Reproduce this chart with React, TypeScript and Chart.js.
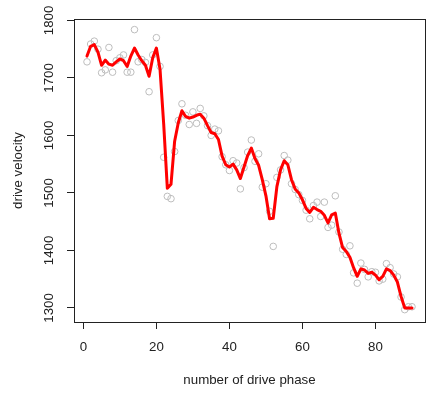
import React, { useEffect, useRef } from "react";
import { Chart, registerables } from "chart.js";

Chart.register(...registerables);

const phase = [
  1, 2, 3, 4, 5, 6, 7, 8, 9, 10, 11, 12, 13, 14, 15, 16, 17, 18, 19, 20,
  21, 22, 23, 24, 25, 26, 27, 28, 29, 30, 31, 32, 33, 34, 35, 36, 37, 38, 39, 40,
  41, 42, 43, 44, 45, 46, 47, 48, 49, 50, 51, 52, 53, 54, 55, 56, 57, 58, 59, 60,
  61, 62, 63, 64, 65, 66, 67, 68, 69, 70, 71, 72, 73, 74, 75, 76, 77, 78, 79, 80,
  81, 82, 83, 84, 85, 86, 87, 88, 89, 90,
];

const velocity = [
  1728, 1759, 1764, 1750, 1709, 1714, 1753, 1710, 1730, 1735,
  1740, 1710, 1710, 1784, 1728, 1732, 1727, 1676, 1740, 1770,
  1720, 1562, 1494, 1490, 1572, 1626, 1655, 1635, 1619, 1641,
  1621, 1647, 1634, 1617, 1600, 1611, 1608, 1563, 1549, 1539,
  1556, 1552, 1507, 1544, 1571, 1592, 1555, 1568, 1510, 1516,
  1468, 1407, 1527, 1540, 1565, 1557, 1516, 1506, 1497, 1487,
  1470, 1455, 1478, 1484, 1459, 1484, 1440, 1444, 1495, 1432,
  1402, 1393, 1408, 1361, 1343, 1378, 1367, 1354, 1363, 1362,
  1347, 1350, 1377, 1370, 1359, 1354, 1319, 1297, 1302, 1302,
];

const smoothed = [
  1738, 1755, 1758, 1745, 1722, 1731, 1724, 1722, 1728, 1733,
  1730, 1720, 1738, 1752, 1740, 1730, 1722, 1703, 1735, 1752,
  1715, 1620, 1508, 1515, 1590, 1622, 1643, 1633, 1630, 1632,
  1635, 1637, 1630, 1617, 1605, 1603, 1593, 1564, 1549, 1545,
  1550, 1540, 1525, 1545, 1565, 1578, 1560, 1548, 1523, 1495,
  1455, 1456, 1511, 1540, 1556, 1549, 1523, 1507, 1500, 1488,
  1473, 1466, 1475, 1471, 1468, 1461, 1448, 1462, 1465, 1430,
  1405, 1398, 1388, 1370, 1355, 1368, 1366, 1360, 1362, 1357,
  1349, 1355, 1368, 1365, 1357, 1345, 1320, 1300, 1300, 1300,
];

const xTicks = [0, 20, 40, 60, 80];
const yTicks = [1300, 1400, 1500, 1600, 1700, 1800];

const xTitle = "number of drive phase";
const yTitle = "drive velocity";

const FONT = "'Liberation Sans', Arial, sans-serif";
const INK = "#222";

const boxPlugin = {
  id: "rBox",
  afterDraw(chart: any) {
    const { ctx, chartArea } = chart;
    ctx.save();
    ctx.strokeStyle = INK;
    ctx.lineWidth = 1;
    ctx.strokeRect(
      Math.round(chartArea.left) + 0.5,
      Math.round(chartArea.top) + 0.5,
      Math.round(chartArea.right - chartArea.left),
      Math.round(chartArea.bottom - chartArea.top)
    );
    ctx.restore();
  },
};

export default function App() {
  const ref = useRef<HTMLCanvasElement | null>(null);

  useEffect(() => {
    document.body.style.overflow = "hidden";
    const canvas = ref.current;
    if (!canvas) return;
    const points = phase.map((p, i) => ({ x: p, y: velocity[i] }));
    const line = phase.map((p, i) => ({ x: p, y: smoothed[i] }));

    const chart = new Chart(canvas, {
      type: "scatter",
      data: {
        datasets: [
          {
            label: "smooth",
            data: line,
            showLine: true,
            borderColor: "#ff0000",
            borderWidth: 3,
            pointRadius: 0,
            borderJoinStyle: "round",
            borderCapStyle: "round",
            tension: 0,
          } as any,
          {
            label: "velocity",
            data: points,
            pointRadius: 3.3,
            pointBorderWidth: 1,
            pointBorderColor: "#bdbdbd",
            pointBackgroundColor: "rgba(0,0,0,0)",
            showLine: false,
          } as any,
        ],
      },
      options: {
        responsive: false,
        animation: false,
        devicePixelRatio: 1,
        layout: { padding: { top: 19, right: 3, left: 0, bottom: 0 } },
        plugins: {
          legend: { display: false },
          tooltip: { enabled: false },
        },
        scales: {
          x: {
            type: "linear",
            min: -2.56,
            max: 93.56,
            afterBuildTicks: (s: any) => {
              s.ticks = xTicks.map((v) => ({ value: v }));
            },
            afterFit: (s: any) => {
              s.height = 71;
            },
            border: { display: false },
            grid: {
              display: true,
              drawOnChartArea: false,
              drawTicks: true,
              tickLength: 7,
              color: INK,
            },
            ticks: {
              padding: 10,
              color: INK,
              font: { family: FONT, size: 13.3 },
              maxRotation: 0,
              minRotation: 0,
              callback: (v: any) => String(v),
            },
            title: {
              display: true,
              text: xTitle,
              color: INK,
              font: { family: FONT, size: 13.3 },
              padding: { top: 0, bottom: 5 },
            },
          },
          y: {
            type: "linear",
            min: 1275.5,
            max: 1802.5,
            afterBuildTicks: (s: any) => {
              s.ticks = yTicks.map((v) => ({ value: v }));
            },
            afterFit: (s: any) => {
              s.width = 74;
            },
            border: { display: false },
            grid: {
              display: true,
              drawOnChartArea: false,
              drawTicks: true,
              tickLength: 7,
              color: INK,
            },
            ticks: {
              padding: 2.5,
              color: INK,
              crossAlign: "center",
              minRotation: 90,
              maxRotation: 90,
              font: { family: FONT, size: 13.3 },
              callback: (v: any) => String(v),
            },
            title: {
              display: true,
              text: yTitle,
              color: INK,
              font: { family: FONT, size: 13.3 },
              padding: { top: 10, bottom: 0 },
            },
          },
        },
      } as any,
      plugins: [boxPlugin],
    });
    return () => chart.destroy();
  }, []);

  return (
    <div style={{ position: "fixed", left: 0, top: 0, width: 430, height: 393 }}>
      <canvas ref={ref} width={430} height={393} style={{ display: "block", width: 430, height: 393 }} />
    </div>
  );
}
